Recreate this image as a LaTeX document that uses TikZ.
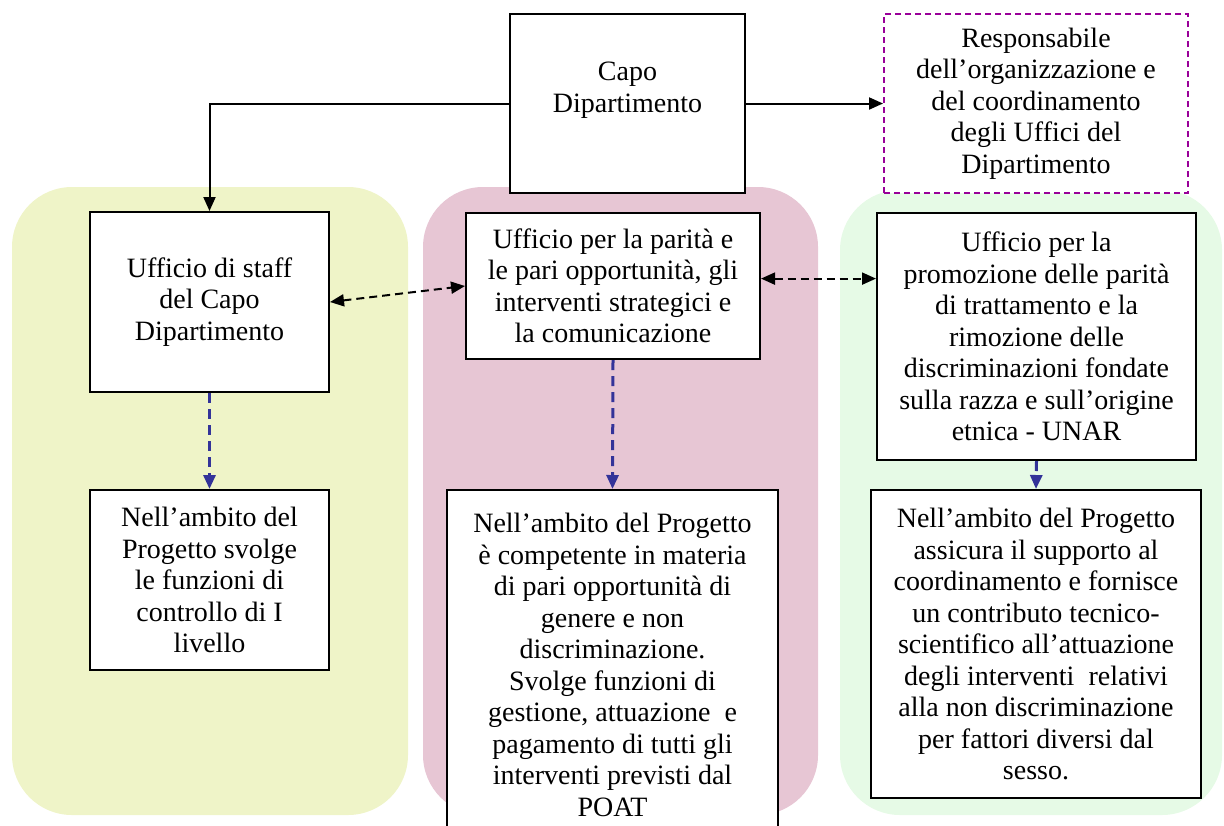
\documentclass[tikz,border=0pt]{standalone}
\usepackage{fontspec}
\setmainfont{Liberation Serif}
\usetikzlibrary{arrows.meta}
\usetikzlibrary{calc}
\tikzset{>={Triangle[length=7pt,width=6pt]}}
\definecolor{zonagialla}{RGB}{239,244,200}
\definecolor{zonarosa}{RGB}{231,198,212}
\definecolor{zonaverde}{RGB}{230,250,230}
\definecolor{bluarrow}{RGB}{51,51,153}
\definecolor{viola}{RGB}{153,0,153}
\tikzset{
    ufficio/.style={draw, line width=1pt, fill=white, align=center, inner sep=0pt},
    testo/.style={align=center, inner sep=0pt},
    nerotratt/.style={<->, line width=1pt, dash pattern=on 4pt off 2.5pt},
    blutratt/.style={->, draw=bluarrow, line width=1.5pt, dash pattern=on 5pt off 3pt},
    every node/.style={font=\fontsize{14}{15.75}\selectfont}
}

\begin{document}
\begin{tikzpicture}[x=0.5pt, y=-0.5pt]
    \clip (0,0) rectangle (1224,825);
    %zone colorate
    \fill[zonagialla, rounded corners=30pt] (12,187) rectangle (408,815);
    \fill[zonarosa, rounded corners=30pt] (423,187) rectangle (818,815);
    \fill[zonaverde, rounded corners=30pt] (840,190) rectangle (1222,815);
    %vertice
    \node[ufficio, minimum width=117.5pt, minimum height=89.5pt] (capo) at (627.5,103.5) {};
    \node[testo] (capotxt) at (627.5,90) {Capo\\Dipartimento};
    \node[ufficio, draw=viola, dash pattern=on 3pt off 2pt, minimum width=152pt, minimum height=89.5pt] (resp) at (1036,103.5)
        {Responsabile\\dell’organizzazione e\\del coordinamento\\degli Uffici del\\Dipartimento};
    %uffici
    \node[ufficio, minimum width=119.5pt, minimum height=90pt] (staff) at (209.5,302)
        {Ufficio di staff\\del Capo\\Dipartimento};
    \node[ufficio, minimum width=147pt, minimum height=73pt] (parita) at (613,286)
        {Ufficio per la parità e\\le pari opportunità, gli\\interventi strategici e\\la comunicazione};
    \node[ufficio, minimum width=159.5pt, minimum height=123.5pt] (unar) at (1036.5,336.5)
        {Ufficio per la\\promozione delle parità\\di trattamento e la\\rimozione delle\\discriminazioni fondate\\sulla razza e sull’origine\\etnica - UNAR};
    %funzioni nel progetto
    \node[ufficio, minimum width=119.5pt, minimum height=90pt] (staffprog) at (209.5,580)
        {Nell’ambito del\\Progetto svolge\\le funzioni di\\controllo di I\\livello};
    \node[ufficio, minimum width=165.5pt, minimum height=175pt] (paritaprog) at (612.5,665)
        {Nell’ambito del Progetto\\è competente in materia\\di pari opportunità di\\genere e non\\discriminazione.\\Svolge funzioni di\\gestione, attuazione\ \ e\\pagamento di tutti gli\\interventi previsti dal\\POAT};
    \node[ufficio, minimum width=165pt, minimum height=154pt] (unarprog) at (1036,644)
        {Nell’ambito del Progetto\\assicura il supporto al\\coordinamento e fornisce\\un contributo tecnico-\\scientifico all’attuazione\\degli interventi\ \ relativi\\alla non discriminazione\\per fattori diversi dal\\sesso.};
    %collegamenti
    \draw[->, line width=1pt] (capo.west) -| (staff.north);
    \draw[->, line width=1pt] (capo.east) -- (resp.west);
    \draw[nerotratt] (staff.east) -- (parita.west);
    \coordinate (pr) at ($(parita.north east)!0.45!(parita.south east)$);
    \draw[nerotratt] (pr) -- (pr -| unar.west);
    \draw[blutratt] (staff.south) -- (staffprog.north);
    \draw[blutratt] (parita.south) -- (paritaprog.north);
    \draw[blutratt] (unar.south) -- (unarprog.north);
\end{tikzpicture}
\end{document}
